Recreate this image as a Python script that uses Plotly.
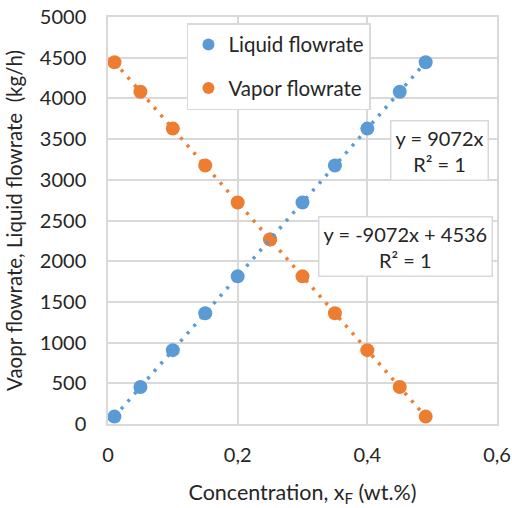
import plotly.graph_objects as go

concentration = [0.01, 0.05, 0.10, 0.15, 0.20, 0.25, 0.30, 0.35, 0.40, 0.45, 0.49]
liquid_flow = [91, 454, 907, 1361, 1814, 2268, 2722, 3175, 3629, 4082, 4445]
vapor_flow = [4445, 4082, 3629, 3175, 2722, 2268, 1814, 1361, 907, 454, 91]
x_tickvals = [0, 0.2, 0.4, 0.6]
x_ticktext = ["0", "0,2", "0,4", "0,6"]
y_tickvals = [0, 500, 1000, 1500, 2000, 2500, 3000, 3500, 4000, 4500, 5000]

BLUE = "#5b9bd5"
ORANGE = "#ed7d31"
FONT = "Lato, 'Open Sans', sans-serif"
TXT = "#262626"

fig = go.Figure()
fig.add_trace(go.Scatter(x=concentration, y=liquid_flow, mode="markers", name="Liquid flowrate",
                         marker=dict(color=BLUE, size=14), legendgroup="a"))
fig.add_trace(go.Scatter(x=concentration, y=vapor_flow, mode="markers", name="Vapor flowrate",
                         marker=dict(color=ORANGE, size=14), legendgroup="b"))
fig.add_trace(go.Scatter(x=concentration, y=liquid_flow, mode="lines", showlegend=False,
                         line=dict(color=BLUE, width=3.5, dash="3px,7px")))
fig.add_trace(go.Scatter(x=concentration, y=vapor_flow, mode="lines", showlegend=False,
                         line=dict(color=ORANGE, width=3.5, dash="3px,7px")))

fig.update_layout(
    width=512, height=508,
    margin=dict(l=108, r=15, t=17, b=84),
    paper_bgcolor="white", plot_bgcolor="white",
    font=dict(family=FONT, size=20, color=TXT),
    legend=dict(x=0.203, y=0.985, xanchor="left", yanchor="top",
                bordercolor="#d9d9d9", borderwidth=1.5, bgcolor="white",
                font=dict(size=20.5, color=TXT), traceorder="grouped",
                tracegroupgap=14, itemsizing="constant"),
    annotations=[
        dict(x=0.5113, y=3360, xref="x", yref="y", xanchor="center", yanchor="middle",
             text="y = 9072x<br>R² = 1", showarrow=False, align="center",
             bordercolor="#d9d9d9", borderwidth=1.5, bgcolor="white",
             font=dict(size=20, color=TXT), borderpad=4),
        dict(x=0.4596, y=2181, xref="x", yref="y", xanchor="center", yanchor="middle",
             text="y = -9072x + 4536<br>R² = 1", showarrow=False, align="center",
             bordercolor="#d9d9d9", borderwidth=1.5, bgcolor="white",
             font=dict(size=20, color=TXT), borderpad=4),
    ],
)
fig.update_xaxes(range=[0, 0.6], tickvals=x_tickvals, ticktext=x_ticktext,
                 showgrid=True, gridcolor="#d9d9d9", gridwidth=1.5,
                 showline=True, linecolor="#d9d9d9", linewidth=1.5, mirror=True,
                 zeroline=False, ticks="", ticklabelstandoff=12, automargin=False,
                 title=dict(text="Concentration, x<sub>F</sub> (wt.%)",
                            font=dict(size=21.5, color=TXT), standoff=20),
                 tickfont=dict(size=20, color=TXT))
fig.update_yaxes(range=[0, 5000], tickvals=y_tickvals,
                 showgrid=True, gridcolor="#d9d9d9", gridwidth=1.5,
                 showline=True, linecolor="#d9d9d9", linewidth=1.5, mirror=True,
                 zeroline=False, ticks="", ticklabelstandoff=16, automargin=False,
                 title=dict(text="Vaopr flowrate, Liquid flowrate  (kg/h)",
                            font=dict(size=20.5, color=TXT), standoff=12),
                 tickfont=dict(size=20, color=TXT))

fig.write_html("out.html", config={"displayModeBar": False},
               post_script="document.body.style.margin='0';document.body.style.overflow='hidden';")
